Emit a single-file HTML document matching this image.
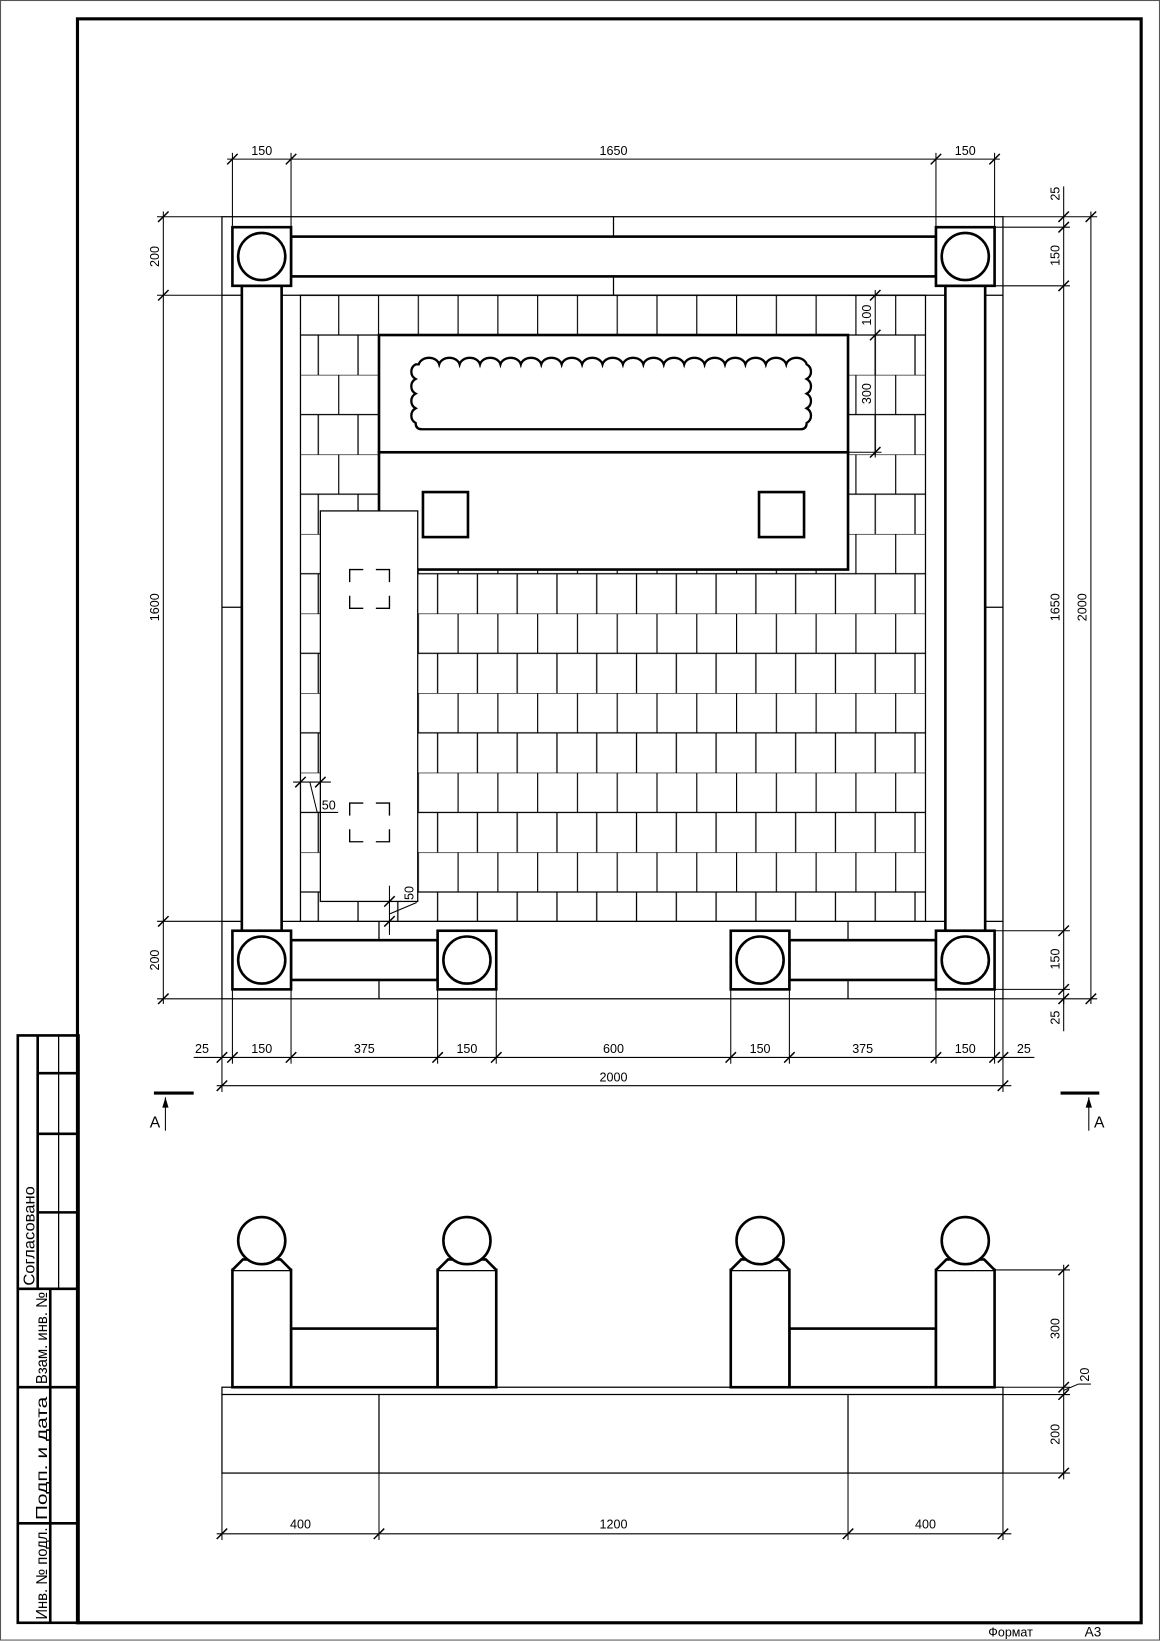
<!DOCTYPE html>
<html><head><meta charset="utf-8"><style>
html,body{margin:0;padding:0;background:#fff}
svg{display:block}
text{font-family:"Liberation Sans","DejaVu Sans",sans-serif;fill:#000}
</style></head><body>
<svg width="1160" height="1641" viewBox="0 0 1108 1567.4" preserveAspectRatio="none" xmlns="http://www.w3.org/2000/svg">
<defs>
<pattern id="tiles" patternUnits="userSpaceOnUse" x="285" y="282" width="38" height="76">
<rect width="38" height="76" fill="#fff"/>
<path d="M0 0H38M0 38H38M0.5 0V38M19 38V76" stroke="#000" stroke-width="1.2" fill="none"/>
</pattern>
<g id="tk"><line x1="-5" y1="5" x2="5" y2="-5" stroke="#000" stroke-width="1.4"/></g>
</defs>
<rect x="0.5" y="0.5" width="1107" height="1566" fill="#fff" stroke="#555" stroke-width="1"/>
<!-- frame -->
<rect x="74" y="18" width="1016" height="1532" fill="none" stroke="#000" stroke-width="3"/>
<!-- title block -->
<g stroke="#000" fill="none">
<rect x="17" y="989" width="58" height="561" stroke-width="2.5"/>
<line x1="36" y1="989" x2="36" y2="1231" stroke-width="2.5"/>
<line x1="56" y1="989" x2="56" y2="1231" stroke-width="1.2"/>
<line x1="36" y1="1025" x2="75" y2="1025" stroke-width="2.5"/>
<line x1="36" y1="1083" x2="75" y2="1083" stroke-width="2.5"/>
<line x1="36" y1="1158" x2="75" y2="1158" stroke-width="2.5"/>
<line x1="17" y1="1231" x2="75" y2="1231" stroke-width="2.5"/>
<line x1="48" y1="1231" x2="48" y2="1550" stroke-width="2.5"/>
<line x1="17" y1="1325" x2="75" y2="1325" stroke-width="2.5"/>
<line x1="17" y1="1455" x2="75" y2="1455" stroke-width="2.5"/>
</g>
<g font-size="15">
<text transform="translate(33,1228) rotate(-90)" textLength="95" lengthAdjust="spacingAndGlyphs">Согласовано</text>
<text transform="translate(45,1322) rotate(-90)" textLength="88" lengthAdjust="spacingAndGlyphs">Взам. инв. №</text>
<text transform="translate(45,1452) rotate(-90)" textLength="118" lengthAdjust="spacingAndGlyphs">Подп. и дата</text>
<text transform="translate(45,1547) rotate(-90)" textLength="88" lengthAdjust="spacingAndGlyphs">Инв. № подл.</text>
</g>
<text x="944" y="1563" font-size="12">Формат</text>
<text x="1036" y="1563" font-size="13">А3</text>

<!-- PLAN -->
<g stroke="#000" fill="none" stroke-width="1.2">
<rect x="212" y="207" width="746" height="747"/>
<line x1="212" y1="282" x2="958" y2="282"/>
<line x1="212" y1="880" x2="958" y2="880"/>
<line x1="586" y1="207" x2="586" y2="226"/><line x1="586" y1="264" x2="586" y2="282"/>
<line x1="362" y1="880" x2="362" y2="898"/><line x1="362" y1="936" x2="362" y2="954"/>
<line x1="810" y1="880" x2="810" y2="898"/><line x1="810" y1="936" x2="810" y2="954"/>
<line x1="212" y1="580" x2="231" y2="580"/><line x1="941" y1="580" x2="958" y2="580"/>
</g>
<rect x="287" y="282" width="597" height="598" fill="url(#tiles)" stroke="#000" stroke-width="1.2"/>
<!-- flower bed -->
<rect x="362" y="320" width="448" height="112" fill="#fff" stroke="#000" stroke-width="2.5"/>
<rect x="362" y="432" width="448" height="112" fill="#fff" stroke="#000" stroke-width="2.5"/>
<rect x="404" y="470" width="43" height="43" fill="none" stroke="#000" stroke-width="2.5"/>
<rect x="725" y="470" width="43" height="43" fill="none" stroke="#000" stroke-width="2.5"/>
<path d="M400 348 a10 8 0 0 1 19.5 0 a10 8 0 0 1 19.5 0 a10 8 0 0 1 19.5 0 a10 8 0 0 1 19.5 0 a10 8 0 0 1 19.5 0 a10 8 0 0 1 19.5 0 a10 8 0 0 1 19.5 0 a10 8 0 0 1 19.5 0 a10 8 0 0 1 19.5 0 a10 8 0 0 1 19.5 0 a10 8 0 0 1 19.5 0 a10 8 0 0 1 19.5 0 a10 8 0 0 1 19.5 0 a10 8 0 0 1 19.5 0 a10 8 0 0 1 19.5 0 a10 8 0 0 1 19.5 0 a10 8 0 0 1 19.5 0 a10 8 0 0 1 19.5 0 a10 8 0 0 1 19.5 0 a8 8 0 0 1 0 14 a8 8 0 0 1 0 14 a8 8 0 0 1 0 14 a8 8 0 0 1 0 14 q0 6 -6 6 L403 410 q-6 0 -6 -6 a8 8 0 0 1 0 -14 a8 8 0 0 1 0 -14 a8 8 0 0 1 0 -14 a8 8 0 0 1 0 -14 z" fill="#fff" stroke="#000" stroke-width="2.2"/>
<!-- slab -->
<rect x="306" y="488" width="93" height="373" fill="#fff" stroke="#000" stroke-width="1.2"/>
<g stroke="#000" stroke-width="1.3" fill="none">
<path d="M334 556V544H347M359 544H372V556M372 569V581H359M347 581H334V569"/>
<path d="M334 779V767H347M359 767H372V779M372 792V804H359M347 804H334V792"/>
</g>
<!-- rails and posts -->
<g stroke="#000" stroke-width="2.5" fill="#fff">
<rect x="278" y="226" width="616" height="38"/>
<rect x="231" y="273" width="38" height="616"/>
<rect x="903" y="273" width="38" height="616"/>
<rect x="278" y="898" width="140" height="38"/>
<rect x="754" y="898" width="140" height="38"/>
<rect x="222" y="217" width="56" height="56"/><circle cx="250" cy="245" r="22.5"/>
<rect x="894" y="217" width="56" height="56"/><circle cx="922" cy="245" r="22.5"/>
<rect x="222" y="889" width="56" height="56"/><circle cx="250" cy="917" r="22.5"/>
<rect x="418" y="889" width="56" height="56"/><circle cx="446" cy="917" r="22.5"/>
<rect x="698" y="889" width="56" height="56"/><circle cx="726" cy="917" r="22.5"/>
<rect x="894" y="889" width="56" height="56"/><circle cx="922" cy="917" r="22.5"/>
</g>
<!-- dimensions plan -->
<g stroke="#000" stroke-width="1" fill="none">
<line x1="217" y1="152" x2="955" y2="152"/>
<line x1="222" y1="146" x2="222" y2="217"/><line x1="278" y1="146" x2="278" y2="217"/>
<line x1="894" y1="146" x2="894" y2="217"/><line x1="950" y1="146" x2="950" y2="217"/>
<line x1="156" y1="202" x2="156" y2="959"/>
<line x1="150" y1="207" x2="212" y2="207"/><line x1="150" y1="282" x2="212" y2="282"/>
<line x1="150" y1="880" x2="212" y2="880"/><line x1="150" y1="954" x2="212" y2="954"/>
<line x1="1016" y1="178" x2="1016" y2="959"/>
<line x1="1042" y1="202" x2="1042" y2="959"/>
<line x1="958" y1="207" x2="1048" y2="207"/><line x1="950" y1="217" x2="1022" y2="217"/>
<line x1="950" y1="273" x2="1022" y2="273"/><line x1="950" y1="889" x2="1022" y2="889"/>
<line x1="950" y1="945" x2="1022" y2="945"/><line x1="958" y1="954" x2="1048" y2="954"/>
<line x1="1016" y1="954" x2="1016" y2="985"/>
<line x1="836" y1="277" x2="836" y2="437"/>
<line x1="810" y1="282" x2="842" y2="282"/><line x1="810" y1="320" x2="842" y2="320"/><line x1="810" y1="432" x2="842" y2="432"/>
<line x1="185" y1="1010" x2="988" y2="1010"/>
<line x1="207" y1="1037" x2="966" y2="1037"/>
<line x1="212" y1="954" x2="212" y2="1043"/><line x1="222" y1="945" x2="222" y2="1016"/>
<line x1="278" y1="945" x2="278" y2="1016"/><line x1="418" y1="945" x2="418" y2="1016"/>
<line x1="474" y1="945" x2="474" y2="1016"/><line x1="698" y1="945" x2="698" y2="1016"/>
<line x1="754" y1="945" x2="754" y2="1016"/><line x1="894" y1="945" x2="894" y2="1016"/>
<line x1="950" y1="945" x2="950" y2="1016"/><line x1="958" y1="954" x2="958" y2="1043"/>
<!-- 50 dims -->
<line x1="280" y1="747" x2="316" y2="747"/><line x1="296" y1="747" x2="303" y2="776"/><line x1="303" y1="776" x2="323" y2="776"/>
<line x1="372" y1="846" x2="372" y2="893"/><line x1="372" y1="873" x2="398" y2="862"/>
</g>
<g>
<use href="#tk" x="222" y="152"/><use href="#tk" x="278" y="152"/><use href="#tk" x="894" y="152"/><use href="#tk" x="950" y="152"/>
<use href="#tk" x="156" y="207"/><use href="#tk" x="156" y="282"/><use href="#tk" x="156" y="880"/><use href="#tk" x="156" y="954"/>
<use href="#tk" x="1016" y="207"/><use href="#tk" x="1016" y="217"/><use href="#tk" x="1016" y="273"/><use href="#tk" x="1016" y="889"/><use href="#tk" x="1016" y="945"/><use href="#tk" x="1016" y="954"/>
<use href="#tk" x="1042" y="207"/><use href="#tk" x="1042" y="954"/>
<use href="#tk" x="836" y="282"/><use href="#tk" x="836" y="320"/><use href="#tk" x="836" y="432"/>
<use href="#tk" x="212" y="1010"/><use href="#tk" x="222" y="1010"/><use href="#tk" x="278" y="1010"/><use href="#tk" x="418" y="1010"/><use href="#tk" x="474" y="1010"/><use href="#tk" x="698" y="1010"/><use href="#tk" x="754" y="1010"/><use href="#tk" x="894" y="1010"/><use href="#tk" x="950" y="1010"/><use href="#tk" x="958" y="1010"/>
<use href="#tk" x="212" y="1037"/><use href="#tk" x="958" y="1037"/>
<use href="#tk" x="287" y="747"/><use href="#tk" x="306" y="747"/>
<use href="#tk" x="372" y="861"/><use href="#tk" x="372" y="880"/>
</g>
<g font-size="12" text-anchor="middle">
<text x="250" y="148">150</text><text x="586" y="148">1650</text><text x="922" y="148">150</text>
<text transform="translate(152,245) rotate(-90)">200</text>
<text transform="translate(152,580) rotate(-90)">1600</text>
<text transform="translate(152,917) rotate(-90)">200</text>
<text transform="translate(1012,185) rotate(-90)">25</text>
<text transform="translate(1012,244) rotate(-90)">150</text>
<text transform="translate(1012,580) rotate(-90)">1650</text>
<text transform="translate(1012,916) rotate(-90)">150</text>
<text transform="translate(1012,972) rotate(-90)">25</text>
<text transform="translate(1038,580) rotate(-90)">2000</text>
<text transform="translate(832,301) rotate(-90)">100</text>
<text transform="translate(832,376) rotate(-90)">300</text>
<text x="193" y="1006">25</text><text x="250" y="1006">150</text><text x="348" y="1006">375</text>
<text x="446" y="1006">150</text><text x="586" y="1006">600</text><text x="726" y="1006">150</text>
<text x="824" y="1006">375</text><text x="922" y="1006">150</text><text x="978" y="1006">25</text>
<text x="586" y="1033">2000</text>
<text x="314" y="773">50</text>
<text transform="translate(395,853) rotate(-90)">50</text>
</g>
<!-- section marks -->
<g stroke="#000" fill="none">
<line x1="147" y1="1044" x2="185" y2="1044" stroke-width="3"/>
<line x1="158" y1="1048" x2="158" y2="1080" stroke-width="1"/>
<line x1="1013" y1="1044" x2="1050" y2="1044" stroke-width="3"/>
<line x1="1040" y1="1048" x2="1040" y2="1080" stroke-width="1"/>
</g>
<path d="M158 1048 l-3 10 h6z M1040 1048 l-3 10 h6z" fill="#000"/>
<text x="143" y="1077" font-size="15">А</text>
<text x="1045" y="1077" font-size="15">А</text>

<!-- ELEVATION -->
<g stroke="#000" stroke-width="1.2" fill="none">
<rect x="212" y="1325" width="746" height="82"/>
<line x1="212" y1="1332" x2="958" y2="1332"/>
<line x1="362" y1="1332" x2="362" y2="1407"/><line x1="810" y1="1332" x2="810" y2="1407"/>
</g>
<g stroke="#000" stroke-width="2.5" fill="#fff">
<rect x="278" y="1269" width="140" height="56"/>
<rect x="754" y="1269" width="140" height="56"/>
<rect x="222" y="1213" width="56" height="112"/><path d="M222 1213 L232 1203 H268 L278 1213"/><circle cx="250" cy="1185" r="22.5"/>
<rect x="418" y="1213" width="56" height="112"/><path d="M418 1213 L428 1203 H464 L474 1213"/><circle cx="446" cy="1185" r="22.5"/>
<rect x="698" y="1213" width="56" height="112"/><path d="M698 1213 L708 1203 H744 L754 1213"/><circle cx="726" cy="1185" r="22.5"/>
<rect x="894" y="1213" width="56" height="112"/><path d="M894 1213 L904 1203 H940 L950 1213"/><circle cx="922" cy="1185" r="22.5"/>
</g>
<g stroke="#000" stroke-width="1" fill="none">
<line x1="950" y1="1213" x2="1022" y2="1213"/>
<line x1="958" y1="1325" x2="1022" y2="1325"/><line x1="958" y1="1332" x2="1022" y2="1332"/>
<line x1="958" y1="1407" x2="1022" y2="1407"/>
<line x1="1016" y1="1208" x2="1016" y2="1413"/>
<line x1="1016" y1="1328" x2="1030" y2="1322"/><line x1="1030" y1="1322" x2="1042" y2="1322"/>
<line x1="207" y1="1465" x2="966" y2="1465"/>
<line x1="212" y1="1407" x2="212" y2="1471"/><line x1="362" y1="1407" x2="362" y2="1471"/>
<line x1="810" y1="1407" x2="810" y2="1471"/><line x1="958" y1="1407" x2="958" y2="1471"/>
</g>
<g>
<use href="#tk" x="1016" y="1213"/><use href="#tk" x="1016" y="1325"/><use href="#tk" x="1016" y="1332"/><use href="#tk" x="1016" y="1407"/>
<use href="#tk" x="212" y="1465"/><use href="#tk" x="362" y="1465"/><use href="#tk" x="810" y="1465"/><use href="#tk" x="958" y="1465"/>
</g>
<g font-size="12" text-anchor="middle">
<text transform="translate(1012,1269) rotate(-90)">300</text>
<text transform="translate(1040,1313) rotate(-90)">20</text>
<text transform="translate(1012,1370) rotate(-90)">200</text>
<text x="287" y="1460">400</text><text x="586" y="1460">1200</text><text x="884" y="1460">400</text>
</g>
</svg>
</body></html>
